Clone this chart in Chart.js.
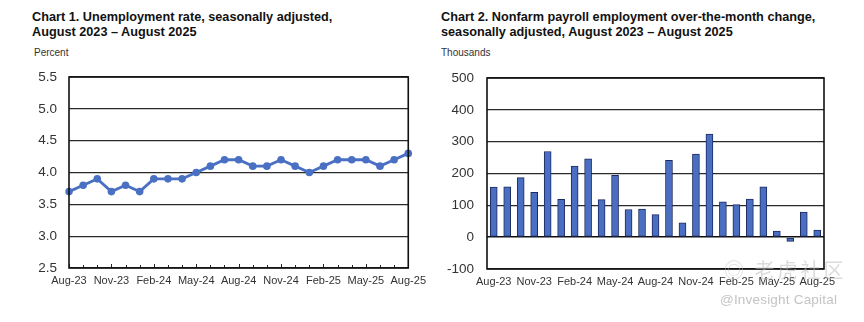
<!DOCTYPE html>
<html>
<head>
<meta charset="utf-8">
<script src="https://cdn.jsdelivr.net/npm/chart.js@4/dist/chart.umd.min.js"></script>
<style>
  html, body { margin: 0; padding: 0; background: #fff; }
  body { width: 864px; height: 322px; position: relative; overflow: hidden; font-family: "Liberation Sans", Arial, sans-serif; }
  .title { position: absolute; font-weight: bold; font-size: 12.7px; line-height: 15px; color: #111; }
  .unit { position: absolute; font-size: 10px; color: #333; }
  .box { position: absolute; top: 0; width: 432px; height: 322px; }
  .wm1 { position: absolute; left: 720px; top: 292px; font-size: 13.5px; color: #c4c4c4; letter-spacing: 0.2px; }
  .wm2 { position: absolute; left: 724px; top: 255px; font-size: 20px; color: rgba(190,190,190,0.55); font-family: "Noto Sans CJK SC", sans-serif; letter-spacing: 3px; }
</style>
</head>
<body>
<div class="title" style="left:32px; top:10px;">Chart 1. Unemployment rate, seasonally adjusted,<br>August 2023 – August 2025</div>
<div class="unit" style="left:34px; top:47px;">Percent</div>
<div class="title" style="left:441px; top:10px;">Chart 2. Nonfarm payroll employment over-the-month change,<br>seasonally adjusted, August 2023 – August 2025</div>
<div class="unit" style="left:441px; top:47px;">Thousands</div>

<div class="box" style="left:0;"><canvas id="c1" width="432" height="322"></canvas></div>
<div class="box" style="left:432px;"><canvas id="c2" width="432" height="322"></canvas></div>

<div class="wm2">◎ 老虎社区</div>
<div class="wm1">@Invesight Capital</div>

<script>
// Months, August 2023 through August 2025
const months = ['Aug-23','Sep-23','Oct-23','Nov-23','Dec-23','Jan-24','Feb-24','Mar-24','Apr-24',
  'May-24','Jun-24','Jul-24','Aug-24','Sep-24','Oct-24','Nov-24','Dec-24','Jan-25','Feb-25',
  'Mar-25','Apr-25','May-25','Jun-25','Jul-25','Aug-25'];

// Unemployment rate, percent
const unemploymentRate = [3.7, 3.8, 3.9, 3.7, 3.8, 3.7, 3.9, 3.9, 3.9, 4.0, 4.1, 4.2, 4.2,
  4.1, 4.1, 4.2, 4.1, 4.0, 4.1, 4.2, 4.2, 4.2, 4.1, 4.2, 4.3];

// Nonfarm payroll over-the-month change, thousands
const payrollChange = [157, 158, 187, 141, 269, 119, 223, 246, 118, 194, 87, 88, 71,
  241, 45, 261, 324, 111, 102, 120, 158, 19, -13, 79, 22];

// Every third month carries a label
const labelEvery = 3;

const FONT = '"Liberation Sans", Arial, sans-serif';
Chart.defaults.font.family = FONT;
Chart.defaults.color = '#333';

// Short inward tick marks along the bottom of the plot, one per month
const monthTicks = {
  id: 'monthTicks',
  afterDatasetsDraw(chart, args, opts) {
    if (!opts.show) return;
    const x = chart.scales.x, area = chart.chartArea, ctx = chart.ctx;
    ctx.save();
    ctx.strokeStyle = '#222';
    ctx.lineWidth = 1;
    for (let i = 0; i < months.length; i++) {
      const px = Math.round(x.getPixelForValue(i)) + 0.5;
      const len = (i % labelEvery === 0) ? 4 : 3;
      ctx.beginPath();
      ctx.moveTo(px, area.bottom);
      ctx.lineTo(px, area.bottom - len);
      ctx.stroke();
    }
    ctx.restore();
  }
};

// Black frame around the plot area
const frame = {
  id: 'frame',
  afterDraw(chart) {
    const a = chart.chartArea, ctx = chart.ctx;
    ctx.save();
    ctx.strokeStyle = '#111';
    ctx.lineWidth = 1.6;
    ctx.strokeRect(a.left, a.top, a.right - a.left, a.bottom - a.top);
    ctx.restore();
  }
};

function xTickLabel(value, index) {
  return index % labelEvery === 0 ? months[index] : '';
}

// Chart 1: unemployment rate line
new Chart(document.getElementById('c1'), {
  type: 'line',
  data: {
    labels: months,
    datasets: [{
      data: unemploymentRate,
      borderColor: '#4a70c4',
      backgroundColor: '#4a70c4',
      borderWidth: 2.8,
      pointRadius: 3.8,
      pointHoverRadius: 3.8,
      pointBackgroundColor: '#4a70c4',
      pointBorderWidth: 0,
      tension: 0
    }]
  },
  options: {
    responsive: false,
    animation: false,
    events: [],
    layout: { padding: { left: 0, right: 22, top: 77, bottom: 0 } },
    plugins: { legend: { display: false }, tooltip: { enabled: false }, monthTicks: { show: true } },
    scales: {
      x: {
        offset: false,
        grid: { display: false, drawTicks: false },
        border: { display: false },
        ticks: { autoSkip: false, maxRotation: 0, minRotation: 0, padding: 6,
          font: { size: 11 }, color: '#333', callback: xTickLabel },
        afterFit(s) { s.height = 54; }
      },
      y: {
        min: 2.5, max: 5.5,
        grid: { color: '#2a2a2a', lineWidth: 1.2, drawTicks: false },
        border: { display: false },
        ticks: { stepSize: 0.5, padding: 12, font: { size: 13.5 }, color: '#333',
          callback: v => v.toFixed(1) },
        afterFit(s) { s.width = 69; }
      }
    }
  },
  plugins: [monthTicks, frame]
});

// Chart 2: payroll change bars
new Chart(document.getElementById('c2'), {
  type: 'bar',
  data: {
    labels: months,
    datasets: [{
      data: payrollChange,
      backgroundColor: '#4a6fc2',
      borderColor: '#1d2a60',
      borderWidth: 1,
      borderSkipped: false,
      barThickness: 7
    }]
  },
  options: {
    responsive: false,
    animation: false,
    events: [],
    layout: { padding: { left: 0, right: 40, top: 78, bottom: 0 } },
    plugins: { legend: { display: false }, tooltip: { enabled: false }, monthTicks: { show: false } },
    scales: {
      x: {
        grid: { display: false, drawTicks: false },
        border: { display: false },
        ticks: { autoSkip: false, maxRotation: 0, minRotation: 0, padding: 6,
          font: { size: 11 }, color: '#333', callback: xTickLabel },
        afterFit(s) { s.height = 53; }
      },
      y: {
        min: -100, max: 500,
        grid: { color: c => c.tick.value === 0 ? '#111' : '#2a2a2a', lineWidth: c => c.tick.value === 0 ? 1.6 : 1.2, drawTicks: false },
        border: { display: false },
        ticks: { stepSize: 100, padding: 13, font: { size: 13.5 }, color: '#333' },
        afterFit(s) { s.width = 55; }
      }
    }
  },
  plugins: [frame]
});
</script>
</body>
</html>
